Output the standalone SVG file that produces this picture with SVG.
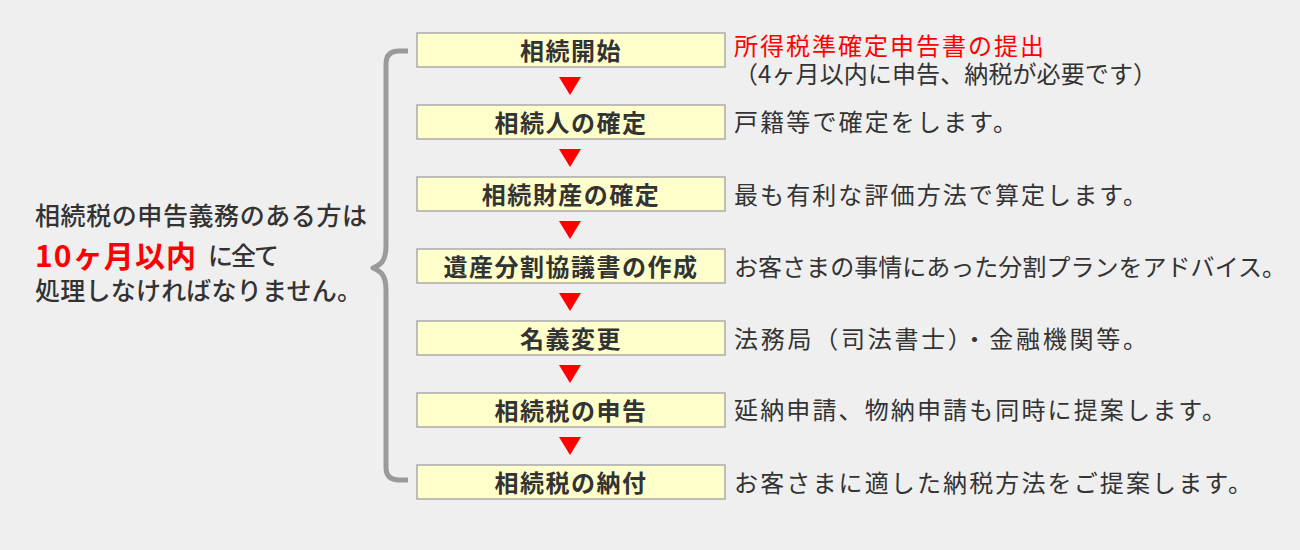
<svg xmlns="http://www.w3.org/2000/svg" width="1300" height="550" viewBox="0 0 1300 550">
<style>
text{font-family:"Noto Sans CJK JP","Noto Sans",sans-serif;}
.box{fill:#ffffcc;stroke:#aaaaaa;stroke-width:1.5;}
.lbl{font-size:24px;font-weight:700;fill:#333;text-anchor:middle;letter-spacing:1.5px;}
.note{font-size:24px;fill:#333;}
.red{fill:#ff0000;}
.left{font-size:25px;font-weight:500;fill:#333;}
.tri{fill:#ff0000;}
.brace{fill:none;stroke:#9a9a9a;stroke-width:5;stroke-linecap:butt;stroke-linejoin:round;}
</style>
<rect x="0" y="0" width="1300" height="550" fill="#efefef"/>

<g id="connectors">
<path class="brace" d="M408,51 H399 Q386,51 386,64 V246 C386,262 380,265 373,268 C380,271 386,274 386,290 V467 Q386,480 399,480 H408"/>
<polygon class="tri" points="559,77 581,77 570,95"/>
<polygon class="tri" points="559,149 581,149 570,167"/>
<polygon class="tri" points="559,221 581,221 570,239"/>
<polygon class="tri" points="559,293 581,293 570,311"/>
<polygon class="tri" points="559,365 581,365 570,383"/>
<polygon class="tri" points="559,437 581,437 570,455"/>
</g>

<g id="summary">
<text class="left" x="35" y="225" textLength="332" lengthAdjust="spacing">相続税の申告義務のある方は</text>
<text x="35" y="267" font-size="30" font-weight="700" fill="#ff0000" textLength="161" lengthAdjust="spacing">10ヶ月以内</text>
<text class="left" x="208" y="265" textLength="71" lengthAdjust="spacing">に全て</text>
<text class="left" x="35" y="300" textLength="327" lengthAdjust="spacing">処理しなければなりません。</text>
</g>

<g id="step1">
<rect class="box" x="417" y="33" width="308" height="34"/>
<text class="lbl" x="571" y="60">相続開始</text>
<text class="note red" x="734" y="55" textLength="310" lengthAdjust="spacing">所得税準確定申告書の提出</text>
<text class="note" x="734" y="83" font-size="22" textLength="423" lengthAdjust="spacing">（4ヶ月以内に申告、納税が必要です）</text>
</g>

<g id="step2">
<rect class="box" x="417" y="105" width="308" height="34"/>
<text class="lbl" x="571" y="132">相続人の確定</text>
<text class="note" x="734" y="131" textLength="283" lengthAdjust="spacing">戸籍等で確定をします。</text>
</g>

<g id="step3">
<rect class="box" x="417" y="177" width="308" height="34"/>
<text class="lbl" x="571" y="204">相続財産の確定</text>
<text class="note" x="734" y="204" textLength="413" lengthAdjust="spacing">最も有利な評価方法で算定します。</text>
</g>

<g id="step4">
<rect class="box" x="417" y="249" width="308" height="34"/>
<text class="lbl" x="571" y="276">遺産分割協議書の作成</text>
<text class="note" x="734" y="276" textLength="552" lengthAdjust="spacing">お客さまの事情にあった分割プランをアドバイス。</text>
</g>

<g id="step5">
<rect class="box" x="417" y="321" width="308" height="34"/>
<text class="lbl" x="571" y="348">名義変更</text>
<text class="note" x="734" y="348" textLength="413" lengthAdjust="spacing">法務局（司法書士）・金融機関等。</text>
</g>

<g id="step6">
<rect class="box" x="417" y="393" width="308" height="34"/>
<text class="lbl" x="571" y="420">相続税の申告</text>
<text class="note" x="734" y="419" textLength="492" lengthAdjust="spacing">延納申請、物納申請も同時に提案します。</text>
</g>

<g id="step7">
<rect class="box" x="417" y="465" width="308" height="34"/>
<text class="lbl" x="571" y="492">相続税の納付</text>
<text class="note" x="734" y="492" textLength="518" lengthAdjust="spacing">お客さまに適した納税方法をご提案します。</text>
</g>
</svg>
